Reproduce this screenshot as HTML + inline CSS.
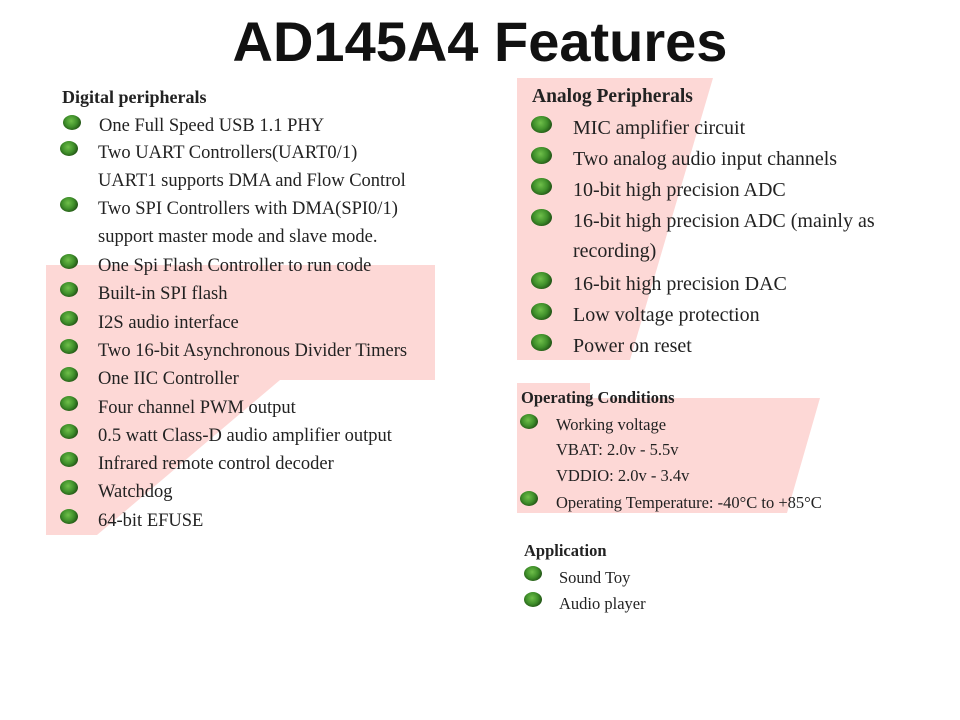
<!DOCTYPE html>
<html><head><meta charset="utf-8"><style>
body{margin:0;width:960px;height:720px;background:#fff;position:relative;overflow:hidden;font-family:"Liberation Serif",serif;color:#222}
.t{position:absolute;white-space:nowrap;line-height:20px;transform:translateY(-10px)}
.b{position:absolute;width:18px;height:15px;border-radius:50%;background:radial-gradient(circle at 45% 40%,#6fbf4a 0,#3f8f2a 45%,#1d4a12 80%);transform:translateY(-9px)}
h1{position:absolute;left:0;width:960px;top:9px;margin:0;text-align:center;font:bold 56px "Liberation Sans","Noto Sans CJK SC",sans-serif;color:#111}
</style></head><body>
<svg width="960" height="720" style="position:absolute;left:0;top:0">
<polygon fill="#fdd8d6" points="46,265 435,265 435,380 280,380 97,535 46,535"/>
<polygon fill="#fdd8d6" points="517,78 713,78 630,360 517,360"/>
<polygon fill="#fdd8d6" points="517,383 590,383 590,398 820,398 787,513 517,513"/>
</svg>
<h1>AD145A4 Features</h1>

<div class="t" style="left:62px;top:97px;font-weight:bold;font-size:18px">Digital peripherals</div>
<div style="font-size:18.5px">
<div class="b" style="left:63px;top:124px"></div><div class="t" style="left:99px;top:126px">One Full Speed USB 1.1 PHY</div>
<div class="b" style="left:60px;top:150px"></div><div class="t" style="left:98px;top:153px">Two UART Controllers(UART0/1)</div>
<div class="t" style="left:98px;top:181px">UART1 supports DMA and Flow Control</div>
<div class="b" style="left:60px;top:206px"></div><div class="t" style="left:98px;top:209px">Two SPI Controllers with DMA(SPI0/1)</div>
<div class="t" style="left:98px;top:237px">support master mode and slave mode.</div>
<div class="b" style="left:60px;top:263px"></div><div class="t" style="left:98px;top:266px">One Spi Flash Controller to run code</div>
<div class="b" style="left:60px;top:291px"></div><div class="t" style="left:98px;top:294px">Built-in SPI flash</div>
<div class="b" style="left:60px;top:320px"></div><div class="t" style="left:98px;top:323px">I2S audio interface</div>
<div class="b" style="left:60px;top:348px"></div><div class="t" style="left:98px;top:351px">Two 16-bit Asynchronous Divider Timers</div>
<div class="b" style="left:60px;top:376px"></div><div class="t" style="left:98px;top:379px">One IIC Controller</div>
<div class="b" style="left:60px;top:405px"></div><div class="t" style="left:98px;top:408px">Four channel PWM output</div>
<div class="b" style="left:60px;top:433px"></div><div class="t" style="left:98px;top:436px">0.5 watt Class-D audio amplifier output</div>
<div class="b" style="left:60px;top:461px"></div><div class="t" style="left:98px;top:464px">Infrared remote control decoder</div>
<div class="b" style="left:60px;top:489px"></div><div class="t" style="left:98px;top:492px">Watchdog</div>
<div class="b" style="left:60px;top:518px"></div><div class="t" style="left:98px;top:521px">64-bit EFUSE</div>
</div>

<div class="t" style="left:532px;top:97px;font-weight:bold;font-size:19.5px">Analog Peripherals</div>
<div style="font-size:20px">
<div class="b" style="left:531px;top:125px;width:21px;height:17px"></div><div class="t" style="left:573px;top:128px">MIC amplifier circuit</div>
<div class="b" style="left:531px;top:156px;width:21px;height:17px"></div><div class="t" style="left:573px;top:159px">Two analog audio input channels</div>
<div class="b" style="left:531px;top:187px;width:21px;height:17px"></div><div class="t" style="left:573px;top:190px">10-bit high precision ADC</div>
<div class="b" style="left:531px;top:218px;width:21px;height:17px"></div><div class="t" style="left:573px;top:221px">16-bit high precision ADC (mainly as</div>
<div class="t" style="left:573px;top:251px">recording)</div>
<div class="b" style="left:531px;top:281px;width:21px;height:17px"></div><div class="t" style="left:573px;top:284px">16-bit high precision DAC</div>
<div class="b" style="left:531px;top:312px;width:21px;height:17px"></div><div class="t" style="left:573px;top:315px">Low voltage protection</div>
<div class="b" style="left:531px;top:343px;width:21px;height:17px"></div><div class="t" style="left:573px;top:346px">Power on reset</div>
</div>

<div class="t" style="left:521px;top:398px;font-weight:bold;font-size:16.5px">Operating Conditions</div>
<div style="font-size:16.5px">
<div class="b" style="left:520px;top:423px"></div><div class="t" style="left:556px;top:425px">Working voltage</div>
<div class="t" style="left:556px;top:450px">VBAT: 2.0v - 5.5v</div>
<div class="t" style="left:556px;top:476px">VDDIO: 2.0v - 3.4v</div>
<div class="b" style="left:520px;top:500px"></div><div class="t" style="left:556px;top:503px">Operating Temperature: -40°C to +85°C</div>
</div>

<div class="t" style="left:524px;top:551px;font-weight:bold;font-size:16.5px">Application</div>
<div style="font-size:16.5px">
<div class="b" style="left:524px;top:575px"></div><div class="t" style="left:559px;top:578px">Sound Toy</div>
<div class="b" style="left:524px;top:601px"></div><div class="t" style="left:559px;top:604px">Audio player</div>
</div>
</body></html>
